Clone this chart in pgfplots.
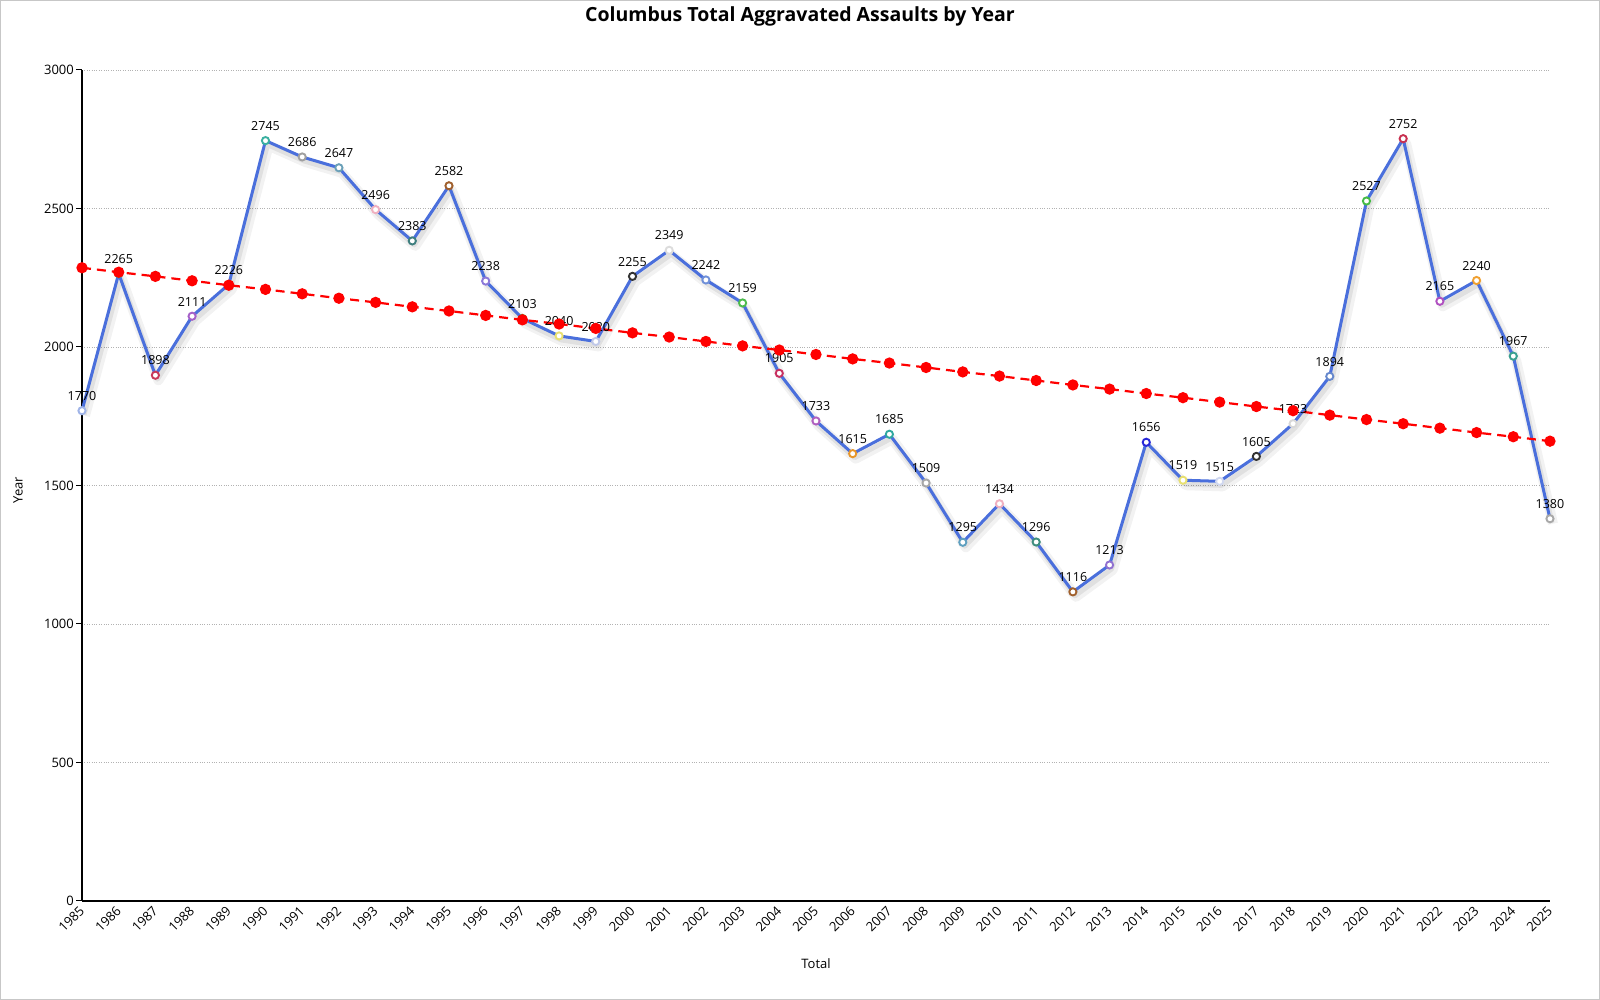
\documentclass[border=0pt]{standalone}
\usepackage{fontspec}
\setmainfont{Open Sans}
\usepackage{pgfplots}
\usepackage{pgfplotstable}
\pgfplotsset{compat=1.18}

\definecolor{lineblue}{HTML}{4A6FDC}
\definecolor{trendred}{HTML}{FF0000}

% year, total, marker outline colour
\pgfplotstableread{
x y c
1985 1770 A0B4E8
1986 2265 3CB371
1987 1898 C8385A
1988 2111 A55FC8
1989 2226 D2691E
1990 2745 3AB0A0
1991 2686 A0A0A0
1992 2647 6AA0B8
1993 2496 F0B0C0
1994 2383 3E7F7F
1995 2582 A0602D
1996 2238 8C78D8
1997 2103 6B8E23
1998 2040 E8E070
1999 2020 C0C8E8
2000 2255 333333
2001 2349 DCDCDC
2002 2242 7090D8
2003 2159 4CBB4C
2004 1905 C83060
2005 1733 B060C0
2006 1615 E8962A
2007 1685 30A8A0
2008 1509 A8A8A8
2009 1295 5FA0C0
2010 1434 F0B0C0
2011 1296 3E8E7E
2012 1116 A0602D
2013 1213 9070D0
2014 1656 2828D8
2015 1519 E8E070
2016 1515 D0D8F0
2017 1605 333333
2018 1723 D8D8D8
2019 1894 6688CC
2020 2527 44BB44
2021 2752 C83050
2022 2165 B050C0
2023 2240 F0A030
2024 1967 3AA090
2025 1380 A8A8A8
}\assaults

% linear trend
\pgfplotstableread{
x y
1985 2286
1986 2270
1987 2255
1988 2239
1989 2223
1990 2208
1991 2192
1992 2176
1993 2161
1994 2145
1995 2130
1996 2114
1997 2098
1998 2083
1999 2067
2000 2051
2001 2036
2002 2020
2003 2004
2004 1989
2005 1973
2006 1957
2007 1942
2008 1926
2009 1910
2010 1895
2011 1879
2012 1863
2013 1848
2014 1832
2015 1817
2016 1801
2017 1785
2018 1770
2019 1754
2020 1738
2021 1723
2022 1707
2023 1691
2024 1676
2025 1660
}\trend

\begin{document}
\begin{tikzpicture}
\useasboundingbox (0,0) rectangle (1600pt,1000pt);
\fill[white] (0,0) rectangle (1600pt,1000pt);
\draw[black!22, line width=1.2pt] (0.6pt,0.6pt) rectangle (1599.4pt,999.4pt);

\begin{axis}[
    at={(82pt,99pt)}, anchor=south west,
    scale only axis,
    width=1468pt, height=831pt,
    xmin=1985, xmax=2025,
    ymin=0, ymax=3000,
    xtick={1985,1986,...,2025},
    ytick={0,500,...,3000},
    axis x line*=bottom, axis y line*=left,
    axis line style={black, line width=1.1pt},
    tick align=outside,
    major tick length=6pt,
    x tick style={draw=none},
    y tick style={black, line width=1pt},
    ymajorgrids,
    grid style={black!30, dotted, line width=0.8pt},
    /pgf/number format/1000 sep={},
    /pgf/number format/assume math mode=true,
    ticklabel style={font=\fontsize{13}{15}\selectfont, black},
    xticklabel style={rotate=45, anchor=east, inner sep=1pt, yshift=-1pt},
    yticklabel style={inner sep=2pt},
    clip=false,
]
% soft shadow below the line
\addplot[no marks, black, opacity=0.05, line width=10pt, xshift=3pt, yshift=-5pt, line join=round]
    table[x=x, y=y] {\assaults};
\addplot[no marks, black, opacity=0.07, line width=5pt, xshift=2pt, yshift=-4pt, line join=round]
    table[x=x, y=y] {\assaults};
% main line
\addplot[no marks, lineblue, line width=3pt, line join=round]
    table[x=x, y=y] {\assaults};
% coloured markers
\addplot[
    scatter, only marks, mark=*, mark size=3.6pt,
    mark options={line width=1.9pt},
    point meta=explicit symbolic,
    scatter/@pre marker code/.code={%
        \edef\tmpcol{\noexpand\definecolor{mk}{HTML}{\pgfplotspointmeta}}\tmpcol
        \scope[draw=mk, fill=white]},
    scatter/@post marker code/.code={\endscope},
] table[x=x, y=y, meta=c] {\assaults};
% value labels
\addplot[
    only marks, mark=none,
    point meta=explicit,
    nodes near coords={\pgfmathprintnumber[fixed, precision=0, 1000 sep={}, assume math mode=true]{\pgfplotspointmeta}},
    every node near coord/.append style={text=black, anchor=south, inner sep=1pt, yshift=9pt,
        font=\fontsize{12.5}{14}\selectfont},
] table[x=x, y=y, meta=y] {\assaults};
% trend
\addplot[trendred, line width=2.2pt, dash pattern=on 9pt off 6pt,
    mark=*, mark size=4.5pt, mark options={solid, fill=trendred, draw=trendred}]
    table[x=x, y=y] {\trend};
\end{axis}

\node[font=\fontsize{19.5}{24}\selectfont\bfseries] at (800pt,984pt) {Columbus Total Aggravated Assaults by Year};
\node[font=\fontsize{13}{15}\selectfont] at (816pt,36pt) {Total};
\node[font=\fontsize{13}{15}\selectfont, rotate=90] at (18pt,510pt) {Year};
\end{tikzpicture}
\end{document}
